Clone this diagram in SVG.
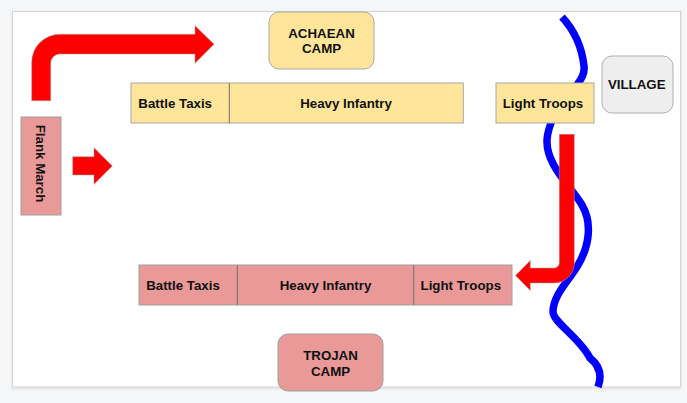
<svg xmlns="http://www.w3.org/2000/svg" width="687" height="403" viewBox="0 0 687 403">
<style>
.t{font-family:"Liberation Sans",Arial,sans-serif;font-size:13.3px;font-weight:bold;fill:#111;text-anchor:middle}
.y{fill:#ffe599;stroke:#a8a8a8;stroke-width:1}
.p{fill:#ea9999;stroke:#a0a0a0;stroke-width:1}
.g{fill:#eeeeee;stroke:#b0b0b0;stroke-width:1}
.d{stroke:#707070;stroke-width:1}
.arrow{fill:#ff0000;stroke:#a0a0a0;stroke-width:0.5}
</style>
<defs>
<filter id="sh" x="-5%" y="-5%" width="110%" height="110%">
<feDropShadow dx="0" dy="1" stdDeviation="1" flood-color="#000" flood-opacity="0.12"/>
</filter>
</defs>
<rect x="0" y="0" width="687" height="403" fill="#f5f6f8"/>
<rect x="12.5" y="11.5" width="668" height="375.5" fill="#ffffff" stroke="#d4d4d4" stroke-width="1" filter="url(#sh)"/>

<g id="river">
<path d="M562,17 C574,30 582,48 584,66 C585,76 580,80 572,92 C555,110 548,125 547,140 C546,165 570,185 582,205 C592,222 590,245 578,265 C568,282 553,295 553,312 C553,322 580,338 590,358 C600,366 602,376 598,387" fill="none" stroke="#0000ff" stroke-width="7.5"/>
</g>

<g id="connectors">
<path class="arrow" d="M31.7,100.7 L31.7,62.3 A28,28 0 0 1 59.7,34.3 L195,34.3 L195,25.7 L214,44.2 L195,63.3 L195,54 L59.7,54 A9,9 0 0 0 50.7,63 L50.7,100.7 Z"/>
<path class="arrow" d="M72.7,156.7 L94,156.7 L94,147.7 L112.3,166 L94,184.3 L94,175 L72.7,175 Z"/>
<path class="arrow" d="M559.3,134.3 L574.3,134.3 L574.3,263 A20,20 0 0 1 554.3,283 L530.3,283 L530.3,290.5 L515.5,275.5 L530.3,260.5 L530.3,268 L554,268 A5.3,5.3 0 0 0 559.3,262.7 Z"/>
</g>

<g id="achaean-camp">
<rect class="y" x="269" y="12" width="105" height="57" rx="10"/>
<text class="t" x="321.5" y="37.7">ACHAEAN</text>
<text class="t" x="321.5" y="53.2">CAMP</text>
</g>

<g id="village">
<rect class="g" x="602" y="56" width="71" height="57" rx="10"/>
<text class="t" x="636.7" y="89.3">VILLAGE</text>
</g>

<g id="achaean-line">
<rect class="y" x="131" y="83" width="332.3" height="40"/>
<line class="d" x1="229.3" y1="83" x2="229.3" y2="123"/>
<text class="t" x="175.2" y="107.8">Battle Taxis</text>
<text class="t" x="346" y="107.8">Heavy Infantry</text>
</g>

<g id="achaean-light-troops">
<rect class="y" x="496" y="83" width="98" height="40"/>
<text class="t" x="543" y="107.8">Light Troops</text>
</g>

<g id="flank-march">
<rect class="p" x="21" y="117" width="40" height="98"/>
<text class="t" transform="translate(41,163.5) rotate(90)" x="0" y="4.6">Flank March</text>
</g>

<g id="trojan-line">
<rect class="p" x="139" y="265" width="373" height="40"/>
<line class="d" x1="237.3" y1="265" x2="237.3" y2="305"/>
<line class="d" x1="413.7" y1="265" x2="413.7" y2="305"/>
<text class="t" x="183" y="289.8">Battle Taxis</text>
<text class="t" x="325.5" y="289.8">Heavy Infantry</text>
<text class="t" x="460.8" y="289.8">Light Troops</text>
</g>

<g id="trojan-camp">
<rect class="p" x="278" y="334" width="105" height="57" rx="10"/>
<text class="t" x="330.5" y="360.2">TROJAN</text>
<text class="t" x="330.5" y="375.7">CAMP</text>
</g>
</svg>
